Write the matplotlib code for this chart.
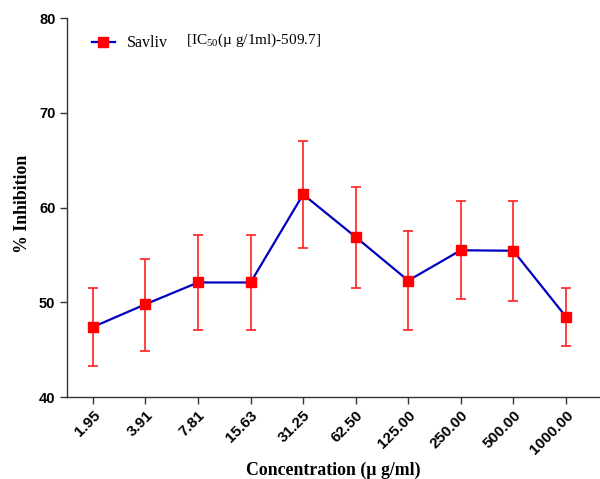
import matplotlib
matplotlib.use("Agg")
import matplotlib.pyplot as plt
from matplotlib.lines import Line2D

plt.rcParams["mathtext.fontset"] = "custom"
plt.rcParams["mathtext.rm"] = "Liberation Serif"
plt.rcParams["mathtext.it"] = "Liberation Serif:italic"

categories = ["1.95", "3.91", "7.81", "15.63", "31.25", "62.50", "125.00", "250.00", "500.00", "1000.00"]
inhibition = [47.4, 49.8, 52.1, 52.1, 61.4, 56.9, 52.3, 55.5, 55.45, 48.5]
err_low = [4.1, 4.9, 5.0, 5.0, 5.65, 5.35, 5.2, 5.15, 5.3, 3.1]
err_high = [4.1, 4.8, 5.0, 5.0, 5.65, 5.3, 5.2, 5.2, 5.25, 3.0]
series_label = "Savliv"
ic50_text = "[IC$_{\\mathrm{50}}$(\u00b5 g/1ml)-509.7]"

fig = plt.figure(figsize=(6.0, 4.79), dpi=100)
ax = fig.add_axes([0.112, 0.171, 0.888, 0.791])

x = list(range(len(categories)))
ax.errorbar(x, inhibition, yerr=[err_low, err_high], fmt="none", ecolor="#ff2020",
            elinewidth=1.2, capsize=3.8, capthick=1.2, zorder=2)
ax.plot(x, inhibition, color="#0000c0", linewidth=1.6, zorder=3)
ax.plot(x, inhibition, linestyle="none", marker="s", markersize=7,
        color="#ff0000", zorder=4)

ax.set_ylim(40, 80)
ax.set_yticks([40, 50, 60, 70, 80])
ax.set_xlim(-0.49, 9.65)
ax.set_xticks(x)
ax.set_xticklabels(categories, rotation=45, ha="right", rotation_mode="anchor",
                   fontfamily="Liberation Sans", fontweight="bold", fontsize=11)
for lbl in ax.get_yticklabels():
    lbl.set_fontfamily("Liberation Sans")
    lbl.set_fontweight("bold")
    lbl.set_fontsize(10.5)

for s in ["top", "right"]:
    ax.spines[s].set_visible(False)
for s in ["left", "bottom"]:
    ax.spines[s].set_linewidth(1.0)
    ax.spines[s].set_color("#333333")
ax.tick_params(direction="out", length=5, width=1.0, colors="#333333", labelcolor="black")
ax.tick_params(axis="x", pad=3)

ax.set_xlabel("Concentration (\u00b5 g/ml)", fontfamily="Liberation Serif",
              fontweight="bold", fontsize=12.8, labelpad=3)
ax.set_ylabel("% Inhibition", fontfamily="Liberation Serif", fontweight="bold",
              fontsize=12.8)
ax.yaxis.set_label_coords(-0.068, 0.51)

handle = Line2D([], [], color="#0000c0", linewidth=1.6, marker="s",
                markersize=7, markerfacecolor="#ff0000", markeredgecolor="#ff0000")
leg = ax.legend([handle], [series_label], loc="upper left",
                bbox_to_anchor=(0.02, 0.993), frameon=False,
                prop={"family": "Liberation Serif", "size": 11.5},
                handlelength=1.4, handletextpad=0.8)
fig.text(0.31, 0.916, ic50_text, fontfamily="Liberation Serif", fontsize=11,
         va="center", ha="left")

fig.savefig("out.png", dpi=100)
